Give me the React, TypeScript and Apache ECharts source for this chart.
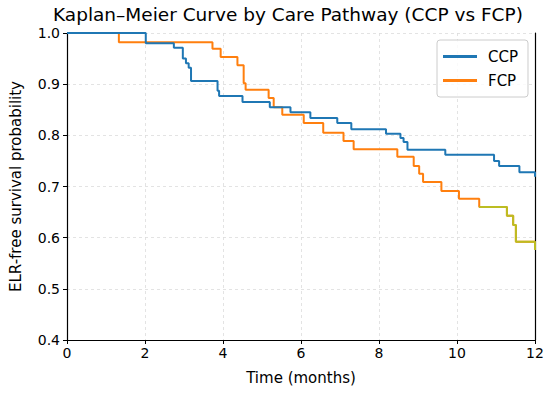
import React, { useEffect, useRef } from "react";
import * as echarts from "echarts";

const ccpTimes = [0, 2.02, 2.74, 2.97, 3.05, 3.12, 3.18, 3.86, 3.9, 4.5, 5.2, 5.73, 6.24, 6.93, 7.29, 8.18, 8.55, 8.63, 8.73, 9.7, 10.95, 11.08, 11.6, 12];
const ccpSurv = [1.0, 0.98, 0.971, 0.95, 0.941, 0.932, 0.906, 0.887, 0.877, 0.865, 0.855, 0.845, 0.834, 0.824, 0.812, 0.803, 0.795, 0.787, 0.772, 0.762, 0.75, 0.74, 0.728, 0.719];

const fcpTimes = [0, 1.33, 3.73, 3.94, 4.37, 4.53, 4.58, 5.17, 5.3, 5.52, 6.07, 6.57, 7.09, 7.35, 8.47, 8.89, 9.03, 9.13, 9.6, 10.05, 10.57, 11.28, 11.44, 11.51, 12];
const fcpSurv = [1.0, 0.982, 0.969, 0.953, 0.937, 0.902, 0.889, 0.873, 0.855, 0.84, 0.824, 0.805, 0.789, 0.773, 0.758, 0.74, 0.725, 0.709, 0.691, 0.676, 0.66, 0.643, 0.625, 0.592, 0.576];

const tailStart = 10.57;

const xTicks = [0, 2, 4, 6, 8, 10, 12];
const yTicks = [0.4, 0.5, 0.6, 0.7, 0.8, 0.9, 1.0];

const seriesNames = ["CCP", "FCP"];
const title = "Kaplan–Meier Curve by Care Pathway (CCP vs FCP)";

export default function App() {
  const ref = useRef<HTMLDivElement>(null);
  useEffect(() => {
    if (!ref.current) return;
    const chart = echarts.init(ref.current, null, { renderer: "svg" });
    const font = "DejaVu Sans";
    const ccpData = ccpTimes.map((t, i) => [t, ccpSurv[i]]);
    const fcpData = fcpTimes.map((t, i) => [t, fcpSurv[i]]);
    const tailData = fcpData.filter((d) => d[0] >= tailStart);
    chart.setOption({
      animation: false,
      backgroundColor: "#ffffff",
      textStyle: { fontFamily: font },
      title: {
        text: title,
        left: 53,
        top: 5,
        padding: 0,
        textStyle: { fontFamily: font, fontSize: 18.5, fontWeight: "normal", color: "#000" },
      },
      grid: { left: 66, right: 15, top: 33, bottom: 56, containLabel: false },
      legend: {
        data: seriesNames,
        orient: "vertical",
        right: 22,
        top: 40,
        itemWidth: 34,
        itemHeight: 3,
        itemGap: 9,
        icon: "rect",
        padding: [9, 10, 9, 6],
        borderColor: "#cccccc",
        borderWidth: 1,
        borderRadius: 3,
        backgroundColor: "rgba(255,255,255,0.8)",
        textStyle: { fontFamily: font, fontSize: 15, color: "#000", padding: [0, 0, 0, 6] },
      },
      xAxis: {
        type: "value",
        min: 0,
        max: 12,
        interval: 2,
        name: "Time (months)",
        nameLocation: "middle",
        nameGap: 30,
        nameTextStyle: { fontFamily: font, fontSize: 15, color: "#000" },
        axisLine: { show: true, lineStyle: { color: "#000", width: 1.2 } },
        axisTick: { show: true, inside: false, length: 4, lineStyle: { color: "#000" } },
        axisLabel: {
          fontFamily: font,
          fontSize: 14,
          color: "#000",
          margin: 6,
          formatter: (v: number) => (xTicks.includes(v) ? String(v) : ""),
        },
        splitLine: { show: true, lineStyle: { color: "#dcdcdc", type: [3, 3], width: 0.8 } },
      },
      yAxis: [
        {
          type: "value",
          min: 0.4,
          max: 1.0,
          interval: 0.1,
          name: "ELR-free survival probability",
          nameLocation: "middle",
          nameGap: 44,
          nameTextStyle: { fontFamily: font, fontSize: 15, color: "#000" },
          axisLine: { show: true, lineStyle: { color: "#000", width: 1.2 } },
          axisTick: { show: true, inside: false, length: 4, lineStyle: { color: "#000" } },
          axisLabel: {
            fontFamily: font,
            fontSize: 14,
            color: "#000",
            margin: 7,
            formatter: (v: number) => {
              const m = yTicks.find((t) => Math.abs(t - v) < 1e-6);
              return m !== undefined ? m.toFixed(1) : "";
            },
          },
          splitLine: { show: true, lineStyle: { color: "#dcdcdc", type: [3, 3], width: 0.8 } },
        },
        {
          type: "value",
          min: 0.4,
          max: 1.0,
          interval: 0.1,
          position: "right",
          axisLine: { show: true, lineStyle: { color: "#000", width: 1.2 } },
          axisTick: { show: false },
          axisLabel: { show: false },
          splitLine: { show: false },
        },
      ],
      series: [
        {
          name: "CCP",
          type: "line",
          step: "end",
          data: ccpData,
          symbol: "none",
          color: "#1f77b4",
          lineStyle: { width: 2, color: "#1f77b4" },
          z: 3,
        },
        {
          name: "FCP",
          type: "line",
          step: "end",
          data: fcpData,
          symbol: "none",
          color: "#ff7f0e",
          lineStyle: { width: 2, color: "#ff7f0e" },
          z: 2,
        },
        {
          name: "tail",
          type: "line",
          step: "end",
          data: tailData,
          symbol: "none",
          color: "#bcbd22",
          lineStyle: { width: 2, color: "#bcbd22" },
          z: 4,
        },
      ],
    });
    return () => chart.dispose();
  }, []);
  return (
    <div
      ref={ref}
      style={{ position: "fixed", left: 0, top: 0, width: 550, height: 396 }}
    />
  );
}
